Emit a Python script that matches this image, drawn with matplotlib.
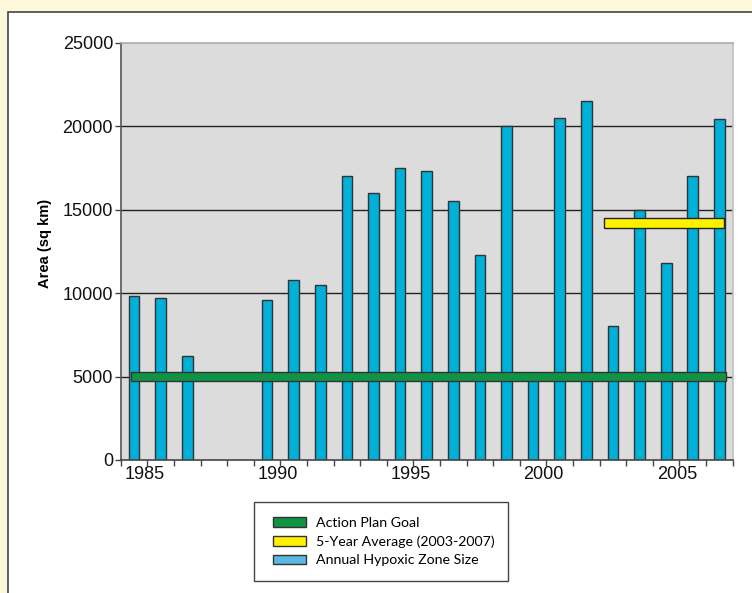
import numpy as np
import matplotlib.pyplot as plt
from matplotlib.patches import Patch, Rectangle

# hypoxic zone area per year (sq km), 1988-1989 not shown
years = [1985, 1986, 1987, 1990, 1991, 1992, 1993, 1994, 1995, 1996, 1997,
         1998, 1999, 2000, 2001, 2002, 2003, 2004, 2005, 2006, 2007]
area = [9800, 9700, 6250, 9600, 10800, 10500, 17000, 16000, 17500, 17300, 15500,
        12300, 20000, 4900, 20500, 21500, 8000, 15000, 11800, 17000, 20400]
goal = 5000
avg_5yr = 14200
avg_span = (2003, 2007)
year_labels = [1985, 1990, 1995, 2000, 2005]
yticks = [0, 5000, 10000, 15000, 20000, 25000]

plt.rcParams['font.family'] = ['Liberation Sans', 'DejaVu Sans']

fig = plt.figure(figsize=(7.52, 5.93), dpi=100, facecolor='#fdf8da')
# white panel
fig.patches.append(Rectangle((8 / 752, -0.05), 1.0, 1 - 12 / 593 + 0.05,
                             transform=fig.transFigure, facecolor='white',
                             edgecolor='#444444', lw=1.2, zorder=-5))

ax = fig.add_axes([120.7 / 752, 133 / 593, 612 / 752, 417.3 / 593])
ax.set_zorder(1)
ax.set_facecolor('#dcdcdc')

for y in yticks[1:-1]:
    ax.axhline(y, color='#222222', lw=1, zorder=1)

ax.bar(years, area, width=0.4, color='#00b0d8', edgecolor='#333333', lw=1, zorder=2)

ax.barh(goal, width=avg_span[1] + 0.24 - 1984.89, left=1984.89, height=560,
        color='#0f9446', edgecolor='#333333', lw=1, zorder=3)
ax.barh(avg_5yr, width=avg_span[1] + 0.18 - (avg_span[0] - 0.34), left=avg_span[0] - 0.34,
        height=570, color='#fff200', edgecolor='#222222', lw=1, zorder=3)

ax.set_xlim(1984.5, 2007.5)
ax.set_ylim(0, 25000)
ax.set_yticks(yticks)
ax.set_yticklabels([str(v) for v in yticks], fontsize=13, color='#111111')
ax.tick_params(axis='y', length=4, width=1, color='#444444', pad=1.5)

ax.set_xticks([y + 0.4 for y in year_labels])
ax.set_xticklabels([str(y) for y in year_labels], fontsize=13, color='#111111')
ax.set_xticks(np.arange(1984.5, 2008, 1), minor=True)
ax.tick_params(axis='x', which='major', length=0, pad=4)
ax.tick_params(axis='x', which='minor', length=4, width=1, color='#444444')

ax.spines['left'].set_color('#555555')
ax.spines['bottom'].set_color('#444444')
ax.spines['top'].set_color('#aaaaaa')
ax.spines['right'].set_color('#c0c0c0')
for s in ax.spines.values():
    s.set_linewidth(1.2)

ax.set_ylabel('Area (sq km)', fontsize=10.5, fontweight='bold')
ax.yaxis.set_label_coords(-0.112, 0.52)

# legend box
fig.patches.append(Rectangle((254 / 752, 1 - 581 / 593), 254 / 752, 79 / 593,
                             transform=fig.transFigure, facecolor='white',
                             edgecolor='#444444', lw=1, zorder=1))
handles = [Patch(facecolor='#0f9446', edgecolor='#333333', label='Action Plan Goal'),
           Patch(facecolor='#fff200', edgecolor='#333333', label='5-Year Average (2003-2007)'),
           Patch(facecolor='#5bb8e0', edgecolor='#333333', label='Annual Hypoxic Zone Size')]
leg = fig.legend(handles=handles, loc='upper left', bbox_to_anchor=(273 / 752, 1 - 517 / 593),
                 frameon=False, prop={'family': 'Lato', 'size': 10.2},
                 handlelength=2.3, handleheight=0.65, handletextpad=0.75,
                 labelspacing=0.45, borderpad=0, borderaxespad=0)
leg.set_zorder(2)

fig.savefig('out.png', dpi=100, facecolor=fig.get_facecolor())
